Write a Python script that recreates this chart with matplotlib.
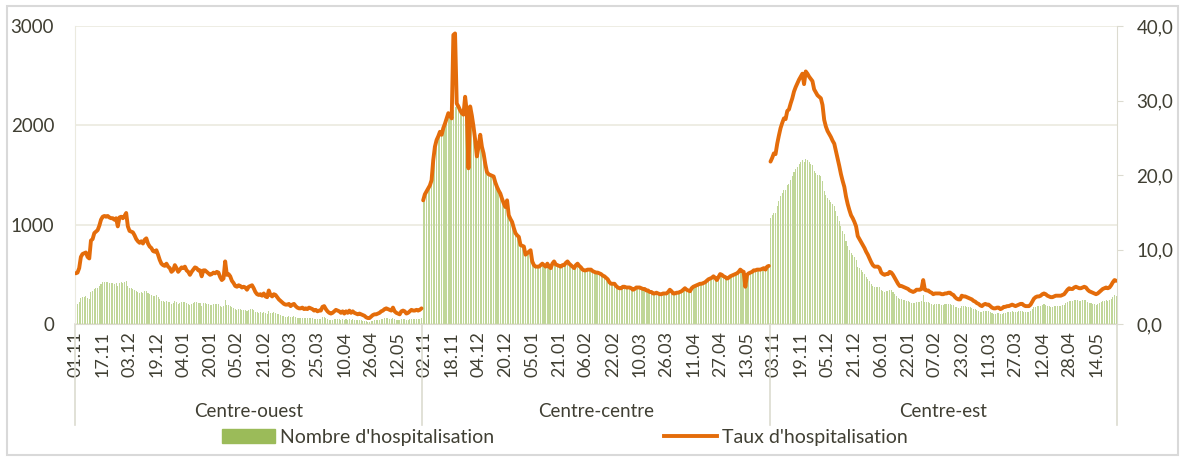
import numpy as np
import pandas as pd
import matplotlib
matplotlib.use("Agg")
import matplotlib.pyplot as plt
from matplotlib.patches import Patch, Rectangle
from matplotlib.lines import Line2D
import matplotlib.transforms as mtransforms

regions = ["Centre-ouest", "Centre-centre", "Centre-est"]
days = pd.date_range("2020-11-01", "2021-05-26", freq="D")  # 207 days per region

rate_ouest = [6.8,6.9,7.5,9.0,9.4,9.5,9.6,9.0,8.8,11.2,
11.4,12.2,12.4,12.6,13.2,14.0,14.4,14.5,14.4,14.5,
14.3,14.2,14.2,14.0,14.2,13.1,14.3,14.4,14.2,14.5,
14.9,13.1,12.5,12.4,12.3,11.9,11.4,11.1,10.9,11.1,
10.8,11.3,11.5,10.8,10.4,10.2,9.8,9.7,9.9,9.3,
8.6,8.1,7.9,7.8,8.1,7.7,7.5,7.0,7.2,7.9,
7.5,7.0,7.3,7.6,7.5,7.7,7.2,7.0,6.6,7.0,
7.3,7.6,7.5,7.2,7.2,6.4,7.2,7.2,7.0,6.8,
6.6,6.7,6.9,6.8,7.0,6.9,6.3,5.9,6.1,8.4,
6.6,6.7,6.4,5.8,5.5,5.1,5.0,5.2,5.1,4.9,
5.0,4.9,4.6,5.0,5.1,5.2,4.8,4.3,4.0,3.9,
4.0,3.8,4.1,3.7,3.6,4.5,3.9,3.7,4.0,3.9,
3.6,3.3,3.1,2.9,2.7,2.6,2.6,2.7,2.4,2.6,
2.7,2.4,2.2,2.1,2.1,2.2,2.0,2.1,2.0,2.2,
2.1,2.0,1.8,1.9,1.7,1.8,1.8,2.3,2.4,2.0,
1.7,1.5,1.4,1.5,1.7,1.9,1.8,1.7,1.5,1.7,
1.4,1.7,1.5,1.8,1.5,1.7,1.5,1.4,1.3,1.4,
1.3,1.2,1.1,0.9,0.8,0.8,1.0,1.2,1.3,1.3,
1.4,1.5,1.7,1.8,2.0,2.1,2.0,1.9,1.8,2.2,
1.7,1.5,1.4,1.3,1.7,1.8,1.7,1.4,1.5,1.7,
1.9,1.8,1.8,1.9,1.8,1.9,2.1]

nb_ouest = [197,200,218,261,273,276,278,261,255,325,
331,354,360,365,383,406,418,421,418,421,
415,412,412,406,412,380,415,418,412,421,
432,380,363,360,357,345,331,322,316,322,
313,328,334,313,302,296,284,281,287,270,
249,235,229,226,235,223,218,203,209,229,
218,203,212,220,218,223,209,203,191,203,
212,220,218,209,209,186,209,209,203,197,
191,194,200,197,203,200,183,171,177,244,
191,194,186,168,160,148,145,151,148,142,
145,142,133,145,148,151,139,125,116,113,
116,110,119,107,104,131,113,107,116,113,
104,96,90,84,78,75,75,78,70,75,
78,70,64,61,61,64,58,61,58,64,
61,58,52,55,49,52,52,67,70,58,
49,44,41,44,49,55,52,49,44,49,
41,49,44,52,44,49,44,41,38,41,
38,35,32,26,23,23,29,35,38,38,
41,44,49,52,58,61,58,55,52,64,
49,44,41,38,49,52,49,41,44,49,
55,52,52,55,52,55,61]

rate_centre = [16.6,17.4,17.8,18.2,18.6,19.3,22.0,23.8,24.7,25.2,
25.8,25.4,26.3,26.9,27.6,28.3,28.0,27.6,38.8,39.0,
29.6,29.2,28.7,28.3,28.1,30.5,28.5,20.9,29.2,28.0,
26.5,24.7,22.5,23.8,25.4,23.8,22.9,21.5,20.4,20.1,
20.0,19.9,19.8,19.0,18.4,17.9,17.5,16.8,16.2,15.7,
16.6,14.6,14.1,13.7,12.9,12.2,11.9,11.7,10.6,10.5,
10.4,9.3,9.5,9.7,9.9,8.4,7.9,7.7,7.7,7.7,
7.9,8.1,7.9,7.7,8.1,7.7,7.5,8.1,8.4,8.0,
7.9,7.8,7.7,7.9,7.9,8.2,8.4,8.1,7.9,7.7,
7.5,7.9,8.1,7.8,7.6,7.3,7.2,7.2,7.3,7.3,
7.3,7.1,7.0,6.9,6.9,6.8,6.7,6.5,6.4,6.2,
6.0,5.6,5.4,5.4,5.4,5.1,4.9,4.8,4.8,5.0,
5.0,4.9,4.9,4.9,4.8,4.6,4.7,4.9,4.9,4.9,
4.8,4.7,4.7,4.5,4.5,4.3,4.3,4.1,4.1,4.2,
4.1,4.0,4.0,4.1,4.1,4.1,4.3,4.6,4.4,4.1,
4.1,4.2,4.2,4.3,4.4,4.6,4.8,4.6,4.5,4.4,
4.8,5.0,5.1,5.2,5.3,5.4,5.4,5.5,5.6,5.8,
6.0,6.1,6.2,6.4,6.2,5.9,6.3,6.7,6.6,6.4,
6.3,6.1,6.2,6.4,6.5,6.6,6.7,6.8,7.0,7.3,
7.1,7.0,5.0,6.6,6.8,6.9,7.0,7.2,7.2,7.3,
7.3,7.3,7.4,7.5,7.3,7.7,7.8]

nb_centre = [1245,1305,1335,1365,1395,1448,1650,1785,1853,1890,
1935,1905,1973,2018,2070,2123,2100,2070,2150,2180,
2200,2190,2153,2123,2108,2130,2138,2100,2150,2100,
1988,1853,1750,1785,1905,1785,1718,1613,1530,1508,
1500,1493,1485,1425,1380,1343,1313,1260,1215,1178,
1245,1095,1058,1028,968,915,893,878,795,788,
780,698,713,728,743,630,593,578,578,578,
593,608,593,578,608,578,563,608,630,600,
593,585,578,593,593,615,630,608,593,578,
563,593,608,585,570,548,540,540,548,548,
548,533,525,518,518,510,503,488,480,465,
450,420,405,405,405,383,368,360,360,375,
375,368,368,368,360,345,353,368,368,368,
360,353,353,338,338,323,323,308,308,315,
308,300,300,308,308,308,323,345,330,308,
308,315,315,323,330,345,360,345,338,330,
360,375,383,390,398,405,405,413,420,435,
450,458,465,480,465,443,473,503,495,480,
473,458,465,480,488,495,503,510,525,548,
533,525,440,495,510,518,525,540,540,548,
548,548,555,563,548,578,585]

rate_est = [21.8,22.3,22.9,22.8,24.2,25.3,26.3,27.0,27.6,27.5,
28.6,28.8,29.6,30.3,31.2,31.8,32.3,32.8,33.2,33.6,
32.2,33.9,33.6,33.2,32.9,32.6,31.5,31.1,30.7,30.5,
30.3,29.4,27.4,26.5,25.9,25.5,25.1,24.6,24.2,23.2,
22.2,21.2,20.1,19.2,18.4,17.1,16.1,15.3,14.6,14.2,
13.7,13.1,11.8,11.4,11.0,10.6,10.2,9.7,9.3,8.8,
8.3,7.9,7.7,7.7,7.7,7.5,6.9,6.7,6.6,6.7,
6.7,7.0,6.9,6.6,6.2,5.8,5.4,5.1,5.1,5.0,
4.9,4.8,4.7,4.5,4.4,4.3,4.4,4.6,4.6,4.6,
4.7,5.9,4.6,4.5,4.5,4.3,4.2,4.0,4.1,4.1,
4.1,4.1,4.0,4.0,4.1,4.1,4.2,4.2,4.0,3.9,
3.6,3.4,3.3,3.3,3.8,3.7,3.7,3.6,3.5,3.4,
3.3,3.1,3.0,2.8,2.7,2.5,2.4,2.6,2.7,2.6,
2.6,2.4,2.2,2.1,2.1,2.2,2.2,2.0,2.1,2.3,
2.3,2.4,2.4,2.5,2.6,2.5,2.4,2.5,2.6,2.7,
2.7,2.5,2.4,2.4,2.4,2.6,3.0,3.4,3.6,3.7,
3.7,3.8,4.0,4.1,4.0,3.8,3.7,3.6,3.6,3.7,
3.8,3.8,3.8,3.8,3.9,4.0,4.3,4.6,4.8,4.7,
4.7,4.9,5.0,4.9,4.8,4.8,4.9,5.0,4.9,4.6,
4.4,4.3,4.2,4.1,4.0,4.1,4.3,4.5,4.7,4.8,
4.9,4.8,4.9,5.2,5.6,5.9,5.8]

nb_est = [1068,1093,1122,1117,1186,1240,1289,1323,1352,1348,
1401,1411,1450,1485,1529,1558,1583,1607,1627,1646,
1630,1661,1646,1627,1612,1597,1544,1524,1504,1495,
1485,1441,1343,1299,1269,1250,1230,1205,1186,1137,
1088,1039,985,941,902,838,789,750,715,696,
671,642,578,559,539,519,500,475,456,431,
407,387,377,377,377,368,338,328,323,328,
328,343,338,323,304,284,265,250,250,245,
240,235,230,221,216,211,216,225,225,225,
230,289,225,221,221,211,206,196,201,201,
201,201,196,196,201,201,206,206,196,191,
176,167,162,162,186,181,181,176,172,167,
162,152,147,137,132,123,118,127,132,127,
127,118,108,103,103,108,108,98,103,113,
113,118,118,123,127,123,118,123,127,132,
132,123,118,118,118,127,147,167,176,181,
181,186,196,201,196,186,181,176,176,181,
186,186,186,186,191,196,211,225,235,230,
230,240,245,240,235,235,240,245,240,225,
216,211,206,201,196,201,211,221,230,235,
240,235,240,255,274,289,284]

rates = [rate_ouest, rate_centre, rate_est]
counts = [nb_ouest, nb_centre, nb_est]

n = len(days)
nreg = len(regions)
all_counts = np.concatenate([np.asarray(c, float) for c in counts])
x_all = np.arange(n * nreg)

TXT = "#403f33"
GRID = "#ebeadf"
AXC = "#dcdbd0"
BAR = "#c0d698"
ORANGE = "#e46c0a"
plt.rcParams["font.family"] = ["Lato", "DejaVu Sans"]

W, H = 1181, 459
fig = plt.figure(figsize=(W / 100, H / 100), dpi=100)
L, R, T, B = 75, 1117, 26, 324
ax = fig.add_axes([L / W, 1 - B / H, (R - L) / W, (B - T) / H])
ax2 = ax.twinx()

ax.bar(x_all, all_counts, width=0.62, color=BAR, linewidth=0, zorder=2)
for k in range(nreg):
    xs = np.arange(n) + k * n
    ax2.plot(xs, rates[k], color=ORANGE, lw=2.8, solid_joinstyle="round",
             solid_capstyle="round", zorder=3)

ax.set_xlim(-0.5, n * nreg - 0.5)
ax.set_ylim(0, 3000)
ax2.set_ylim(0, 40)
ax.set_yticks([0, 1000, 2000, 3000])
ax2.set_yticks([0, 10, 20, 30, 40])
ax2.set_yticklabels([f"{v:.1f}".replace(".", ",") for v in [0, 10, 20, 30, 40]])
ax.grid(axis="y", color=GRID, lw=1.2, zorder=0)
ax.set_axisbelow(True)

for a in (ax, ax2):
    for s in a.spines.values():
        s.set_visible(False)
ax2.spines["right"].set_visible(True)
ax2.spines["right"].set_color(AXC)
ax.spines["bottom"].set_visible(True)
ax.spines["bottom"].set_color(AXC)
ax.spines["left"].set_visible(True)
ax.spines["left"].set_color(GRID)

ax.tick_params(axis="y", length=0, pad=15, labelsize=13.5, labelcolor=TXT)
ax2.tick_params(axis="y", length=4, color=AXC, pad=10, labelsize=13.5, labelcolor=TXT)

# category ticks every 16 days across the three regions
tick_pos = np.arange(0, n * nreg, 16)
tick_lab = [days[p % n].strftime("%d.%m") for p in tick_pos]
ax.set_xticks(tick_pos)
ax.set_xticklabels(tick_lab, rotation=90, fontsize=13, color=TXT)
ax.tick_params(axis="x", length=0, pad=5)

# group separators and labels
trans = mtransforms.blended_transform_factory(ax.transData, ax.transAxes)
for k in range(nreg + 1):
    xb = k * n - 0.5
    ax.plot([xb, xb], [0, -0.34], transform=trans, color=AXC, lw=1.2,
            clip_on=False, zorder=1)
for k, name in enumerate(regions):
    ax.text(k * n + (n - 1) / 2, -0.295, name, transform=trans, ha="center",
            va="center", fontsize=13.5, color=TXT)

# legend
leg1 = fig.legend(handles=[Patch(color="#9bbb59")], labels=["Nombre d'hospitalisation"],
                  loc="center left", bbox_to_anchor=(204.5 / W, 1 - 437 / H), frameon=False,
                  fontsize=14, handlelength=2.7, handleheight=0.7, handletextpad=0.28,
                  labelcolor=TXT)
leg2 = fig.legend(handles=[Line2D([], [], color=ORANGE, lw=2.8)], labels=["Taux d'hospitalisation"],
                  loc="center left", bbox_to_anchor=(646.5 / W, 1 - 437 / H), frameon=False,
                  fontsize=14, handlelength=2.7, handletextpad=0.28, labelcolor=TXT)

# outer border
fig.patches.append(Rectangle((7 / W, 4 / H), 1171 / W, 449 / H, transform=fig.transFigure,
                             fill=False, edgecolor="#d9d9d9", lw=1.5))

fig.savefig("out.png", dpi=100)
